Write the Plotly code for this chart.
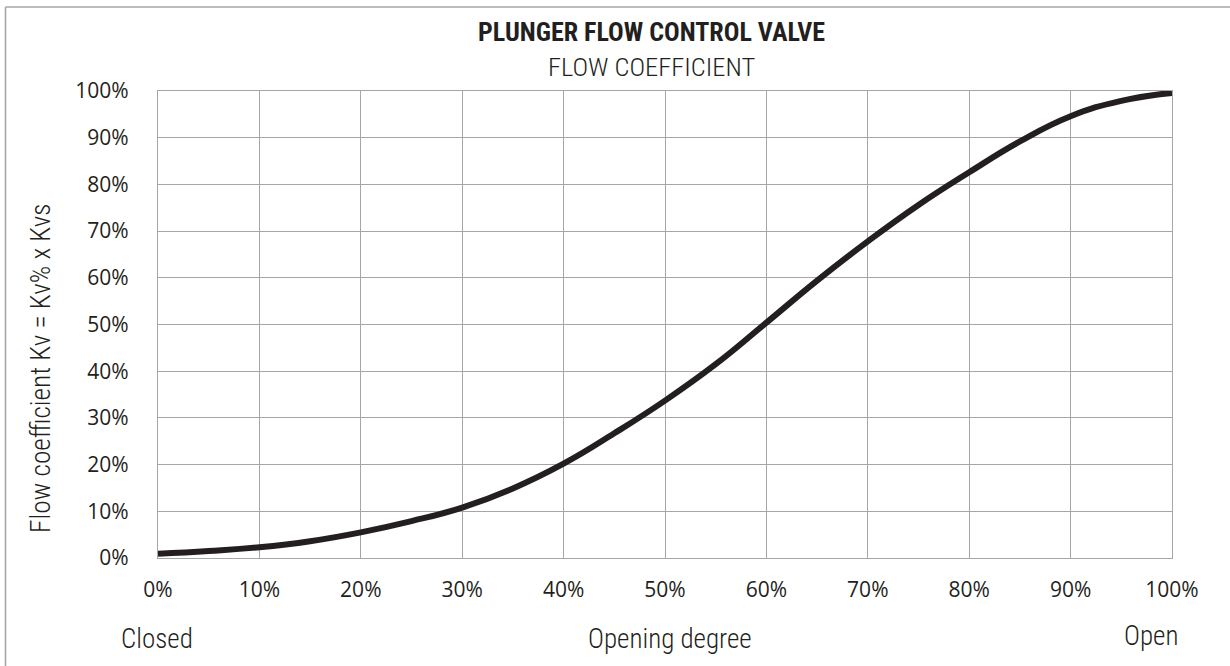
import plotly.graph_objects as go

opening = [0, 5, 10, 15, 20, 25, 30, 35, 40, 45, 50, 55, 60, 65, 70, 75, 80, 85, 90, 95, 100]
kv_pct = [0.9, 1.5, 2.3, 3.6, 5.5, 7.9, 10.8, 14.9, 20.2, 26.7, 33.7, 41.5, 50.4, 59.4, 67.8, 75.6, 82.6, 89.2, 94.6, 97.9, 99.6]
tick_vals = [0, 10, 20, 30, 40, 50, 60, 70, 80, 90, 100]
tick_text = [f"{v}%" for v in tick_vals]

title_text = "PLUNGER FLOW CONTROL VALVE"
subtitle_text = "FLOW COEFFICIENT"
y_title = "Flow coefficient Kv = Kv% x Kvs"
x_title = "Opening degree"
left_label = "Closed"
right_label = "Open"

W, H = 1230, 666
L, R, T, B = 158, 58, 91, 108
PW, PH = W - L - R, H - T - B

def px(x):
    return (x - L) / PW

def py(y):
    return (H - B - y) / PH

COND = "Roboto Condensed, DejaVu Sans Condensed, sans-serif"
TXT = "#231f20"
GRID = "#a6a6a6"

fig = go.Figure()
fig.add_trace(go.Scatter(
    x=opening, y=kv_pct, mode="lines",
    line=dict(color=TXT, width=6, shape="spline", smoothing=1.3),
    hoverinfo="skip", showlegend=False,
))

axis_common = dict(
    range=[0, 100], tickvals=tick_vals, ticktext=tick_text,
    showgrid=True, gridcolor=GRID, gridwidth=1.4,
    showline=True, linecolor=GRID, linewidth=1.4, mirror=True,
    zeroline=False, ticks="",
    tickfont=dict(family="Open Sans, sans-serif", size=21, color=TXT),
    fixedrange=True,
)
fig.update_xaxes(**axis_common, ticklabelstandoff=13)
fig.update_yaxes(**axis_common, ticklabelstandoff=24)

def label(text, x, y, size, weight=300, angle=0):
    return dict(text=text, x=px(x), y=py(y), xref="paper", yref="paper", textangle=angle,
                showarrow=False, xanchor="center", yanchor="middle",
                font=dict(family=COND, size=size, color=TXT, weight=weight))

ann = [
    label(title_text, 651, 32, 26, weight=700),
    label(subtitle_text, 651, 66, 26.5),
    label(y_title, 41, 368, 27.3, angle=-90),
    label(left_label, 157, 639, 27),
    label(x_title, 670, 639, 27),
    label(right_label, 1151, 636, 27),
]

shapes = [
    dict(type="line", xref="paper", yref="paper", x0=px(5.5), x1=px(1240), y0=py(7), y1=py(7),
         line=dict(color=GRID, width=1.6)),
    dict(type="line", xref="paper", yref="paper", x0=px(5.5), x1=px(5.5), y0=py(7), y1=py(680),
         line=dict(color=GRID, width=1.6)),
]

fig.update_layout(
    width=W, height=H,
    margin=dict(l=L, r=R, t=T, b=B, autoexpand=False),
    paper_bgcolor="white", plot_bgcolor="white",
    annotations=ann, shapes=shapes, showlegend=False,
)

fig.write_html("out.html", config={"displayModeBar": False},
               post_script="document.body.style.margin='0px';")
